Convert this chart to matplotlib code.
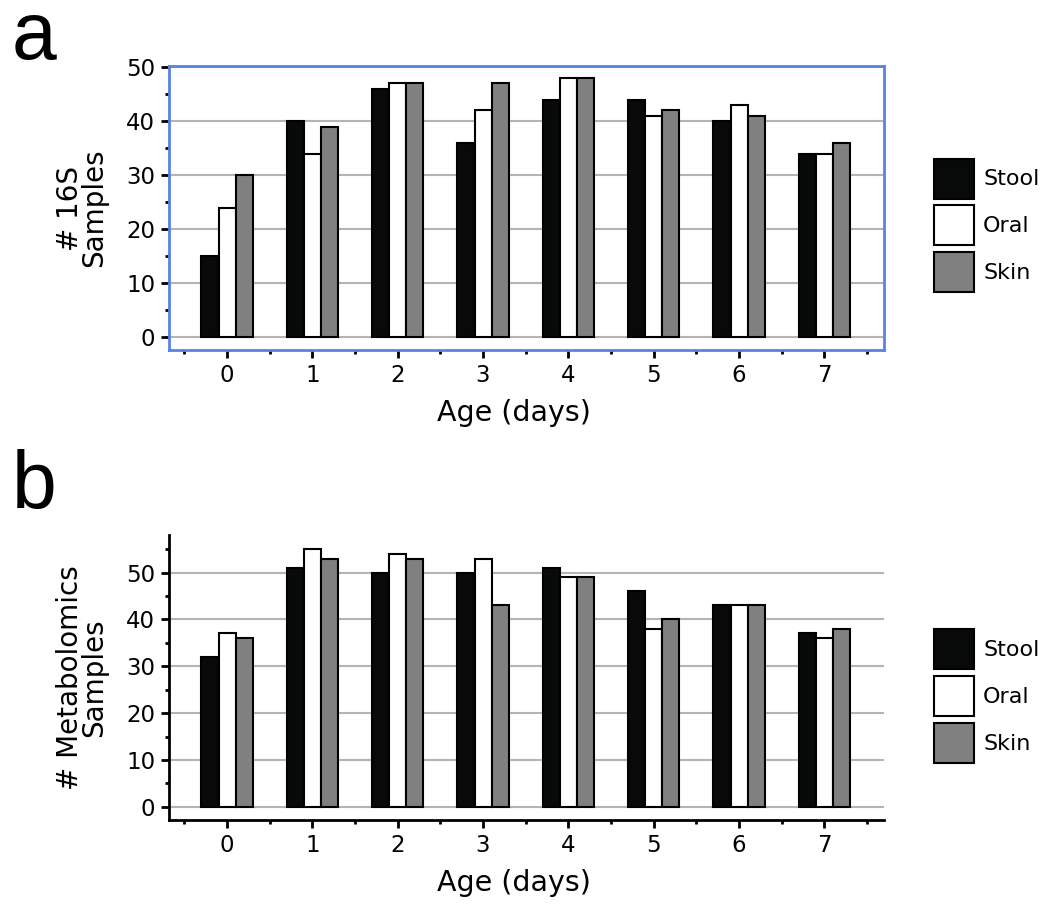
import matplotlib
matplotlib.use("Agg")
from matplotlib import pyplot as plt
from matplotlib.ticker import MultipleLocator
import numpy as np

days = [0, 1, 2, 3, 4, 5, 6, 7]
sites = ["Stool", "Oral", "Skin"]
site_colors = ["#080a09", "#ffffff", "#808080"]

# panel a: 16S samples
stool_16s = [15, 40, 46, 36, 44, 44, 40, 34]
oral_16s = [24, 34, 47, 42, 48, 41, 43, 34]
skin_16s = [30, 39, 47, 47, 48, 42, 41, 36]

# panel b: metabolomics samples
stool_met = [32, 51, 50, 50, 51, 46, 43, 37]
oral_met = [37, 55, 54, 53, 49, 38, 43, 36]
skin_met = [36, 53, 53, 43, 49, 40, 43, 38]

plt.rcParams['font.family'] = ['DejaVu Sans']

fig = plt.figure(figsize=(10.5, 9.07), dpi=100)
ax1 = fig.add_axes([0.161, 0.614, 0.681, 0.313])
ax2 = fig.add_axes([0.161, 0.096, 0.681, 0.314])

w = 0.2
x = np.arange(len(days))


def draw_panel(ax, series, ylabel, ylim, blue_frame, leg_y):
    for k, (vals, c, name) in enumerate(zip(series, site_colors, sites)):
        ax.bar(x + (k - 1) * w, vals, width=w, color=c, edgecolor='black',
               linewidth=1.5, label=name, zorder=3)
    ax.set_xlim(-0.68, 7.7)
    ax.set_ylim(*ylim)
    ax.set_xticks(x)
    ax.set_xticklabels([str(d) for d in days])
    ax.xaxis.set_minor_locator(MultipleLocator(0.5))
    ax.yaxis.set_major_locator(MultipleLocator(10))
    ax.yaxis.set_minor_locator(MultipleLocator(5))
    ax.tick_params(axis='both', which='major', direction='out', length=6, width=2,
                   labelsize=16.5, pad=4)
    ax.tick_params(axis='both', which='minor', direction='out', length=3, width=2)
    ax.grid(axis='y', which='major', color='#b4b4b4', linewidth=1.5, zorder=0)
    ax.set_axisbelow(True)
    ax.set_xlabel("Age (days)", fontsize=20.5, labelpad=9)
    ax.xaxis.label.set_x(0.4825)
    ax.set_ylabel(ylabel, fontsize=20, linespacing=0.85)
    ax.yaxis.set_label_coords(-0.085, 0.5)

    if blue_frame:
        for s in ax.spines.values():
            s.set_color('#5a82e6')
            s.set_linewidth(2)
    else:
        ax.spines['top'].set_visible(False)
        ax.spines['right'].set_visible(False)
        ax.spines['left'].set_linewidth(2)
        ax.spines['bottom'].set_linewidth(2)

    ax.legend(loc='center left', bbox_to_anchor=(1.07, leg_y), frameon=False,
              fontsize=16, handlelength=1.8, handleheight=2.39,
              labelspacing=0.3, handletextpad=0.4, borderaxespad=0, borderpad=0)


draw_panel(ax1, [stool_16s, oral_16s, skin_16s], "# 16S\nSamples", (-2.4, 50.2), True, 0.44)
draw_panel(ax2, [stool_met, oral_met, skin_met], "# Metabolomics\nSamples", (-2.8, 58), False, 0.435)

fig.text(0.011, 0.935, "a", fontsize=58, family='Liberation Sans', va='baseline')
fig.text(0.011, 0.44, "b", fontsize=58, family='Liberation Sans', va='baseline')

fig.savefig("out.png", dpi=100)
